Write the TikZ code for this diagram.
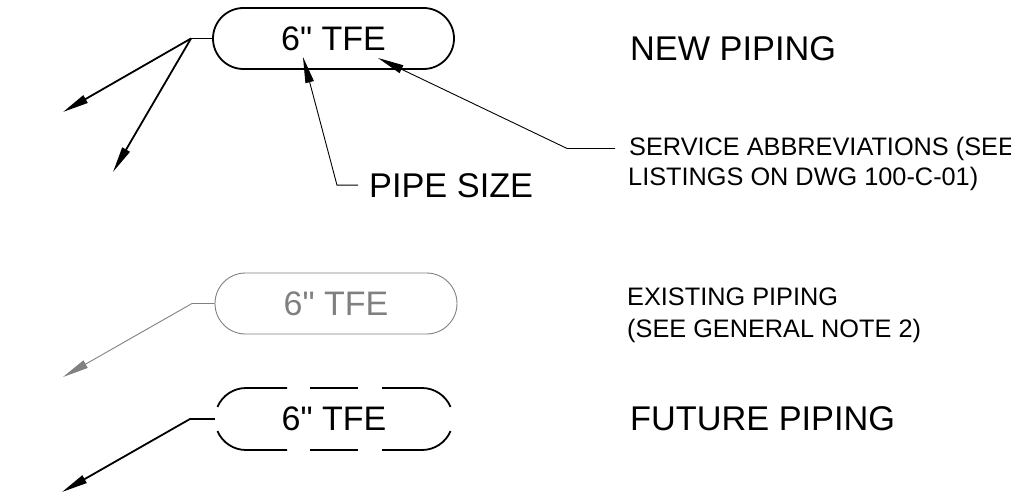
\documentclass[tikz,border=0pt]{standalone}
\usepackage{fontspec}
\setmainfont{Liberation Sans}
\newfontfamily\plainsans{Liberation Sans}
\usetikzlibrary{arrows.meta,calc}
\begin{document}
\begin{tikzpicture}[x=1pt,y=1pt,
  big/.style={font=\fontsize{34.3}{34.3}\selectfont, inner sep=0pt},
  small/.style={font=\fontsize{25.3}{25.3}\selectfont, inner sep=0pt},
  boxtext/.style={font=\plainsans\fontsize{34}{34}\selectfont},
  pipebox/.style={draw, line width=1.8pt, rounded corners=30.5pt, minimum width=241pt, minimum height=61pt, inner sep=0pt, boxtext},
  tip/.style={-{Triangle[length=26pt,width=8.5pt]}},
  heavy/.style={line width=1.8pt},
  light/.style={line width=0.9pt},
]
\useasboundingbox (0,0) rectangle (1011,499);
\clip (0,0) rectangle (1011,499);

% ---- new piping ----
\node[pipebox] (tb) at (333.5,460.5) {6" TFE};
\coordinate (tk) at (191,460.5);
\coordinate (ta1) at (63,387);
\coordinate (ta2) at (113,327);
\draw[heavy] (tb.west) -- (tk);
\draw[heavy,tip] (tk) -- (ta1);
\draw[heavy,tip] (tk) -- (ta2);

\node[big, anchor=base west] (ps) at (369,302) {PIPE SIZE};
\coordinate (pst) at (303,442);
\draw[light,tip] ($(ps.west)+(-11,0)$) -- ($(ps.west)+(-32,0)$) -- (pst);

\node[small, anchor=base west] (sv1) at (629,344) {SERVICE ABBREVIATIONS (SEE};
\node[small, anchor=base west] (sv2) at (628,314) {LISTINGS ON DWG 100-C-01)};
\coordinate (svt) at (378,441);
\draw[light,tip] ($(sv1.west)+(-14,0)$) -- ($(sv1.west)+(-62,0)$) -- (svt);

\node[big, anchor=base west] (np) at (630,438) {NEW PIPING};

% ---- existing piping ----
\node[pipebox, draw=black!50, text=black!50, line width=0.9pt, minimum width=242pt] (gb) at (336,195.5) {6" TFE};
\coordinate (gk) at (192,195.5);
\coordinate (gt) at (63,122);
\draw[light, black!50, tip] (gb.west) -- (gk) -- (gt);

\node[small, anchor=base west] (ex1) at (627,194) {EXISTING PIPING};
\node[small, anchor=base west] (ex2) at (627,162) {(SEE GENERAL NOTE 2)};

% ---- future piping ----
\node[minimum width=238pt, minimum height=62pt, inner sep=0pt, boxtext] (fb) at (334,80) {6" TFE};
\draw[heavy] (217.46,92.11) arc[start angle=157,end angle=90,radius=31] -- (287,111);
\draw[heavy] (310,111) -- (358,111);
\draw[heavy] (382,111) -- (422,111) arc[start angle=90,end angle=23,radius=31];
\draw[heavy] (450.54,67.89) arc[start angle=-23,end angle=-90,radius=31] -- (382,49);
\draw[heavy] (358,49) -- (310,49);
\draw[heavy] (287,49) -- (246,49) arc[start angle=270,end angle=203,radius=31];
\coordinate (fk) at (190,80);
\coordinate (ft) at (62,7);
\draw[heavy,tip] (fb.west) -- (fk) -- (ft);

\node[big, anchor=base west] (fp) at (630,69) {FUTURE PIPING};
\end{tikzpicture}
\end{document}
